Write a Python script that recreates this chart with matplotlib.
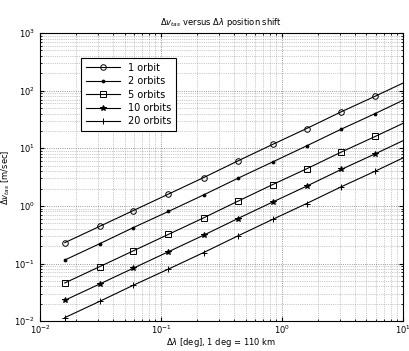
import matplotlib
matplotlib.use('Agg')
import matplotlib.pyplot as plt

# position shift in degrees (1 deg = 110 km)
dlam = [0.016, 0.031, 0.059, 0.115, 0.225, 0.43, 0.84, 1.6, 3.1, 5.9, 11.5]

# delta v [m/sec], one list per number of orbits
dv_1 = [0.23, 0.44, 0.83, 1.6, 3.1, 6.0, 11.7, 22, 43, 80, 155]
dv_2 = [0.115, 0.22, 0.42, 0.8, 1.55, 3.0, 5.8, 11, 21.5, 40, 78]
dv_5 = [0.046, 0.088, 0.166, 0.32, 0.62, 1.2, 2.35, 4.4, 8.6, 16, 31]
dv_10 = [0.023, 0.044, 0.083, 0.16, 0.31, 0.6, 1.17, 2.2, 4.3, 8.0, 15.5]
dv_20 = [0.0115, 0.022, 0.042, 0.08, 0.155, 0.3, 0.585, 1.1, 2.15, 4.0, 7.8]

labels = ['1 orbit', '2 orbits', '5 orbits', '10 orbits', '20 orbits']
series = [dv_1, dv_2, dv_5, dv_10, dv_20]
markers = [('o', 4, 'none'), ('.', 4, 'k'), ('s', 4, 'none'), ('*', 4, 'k'), ('+', 4, 'k')]

fig = plt.figure(figsize=(4.09, 3.51), dpi=100)
ax = fig.add_axes([0.098, 0.085, 0.887, 0.821])

for dv, lab, (m, ms, fc) in zip(series, labels, markers):
    ax.plot(dlam, dv, color='k', lw=0.8, marker=m, ms=ms, mfc=fc, mec='k', mew=0.7, label=lab)

ax.set_xscale('log')
ax.set_yscale('log')
ax.set_xlim(1e-2, 1e1)
ax.set_ylim(1e-2, 1e3)

ax.grid(True, which='major', ls=':', lw=0.6, color='#777777')
ax.grid(True, which='minor', ls=':', lw=0.5, color='#999999')
ax.tick_params(which='both', direction='in', labelsize=6, top=True, right=True, length=3)
ax.tick_params(which='minor', length=1.5)
ax.tick_params(axis='x', pad=2)
for s in ax.spines.values():
    s.set_linewidth(0.8)

ax.set_title(r'$\Delta v_{tas}$ versus $\Delta\lambda$ position shift', fontsize=6, pad=6)
ax.set_xlabel(r'$\Delta\lambda$ [deg], 1 deg = 110 km', fontsize=6, labelpad=0)
ax.set_ylabel(r'$\Delta v_{tas}$ [m/sec]', fontsize=6, labelpad=2)

leg = ax.legend(loc='upper left', bbox_to_anchor=(0.1, 0.93), fontsize=7, frameon=True,
                fancybox=False, edgecolor='k', framealpha=1, handlelength=3.5,
                borderpad=0.5, labelspacing=0.35)
leg.get_frame().set_linewidth(0.8)

fig.savefig('out.png', dpi=100)
